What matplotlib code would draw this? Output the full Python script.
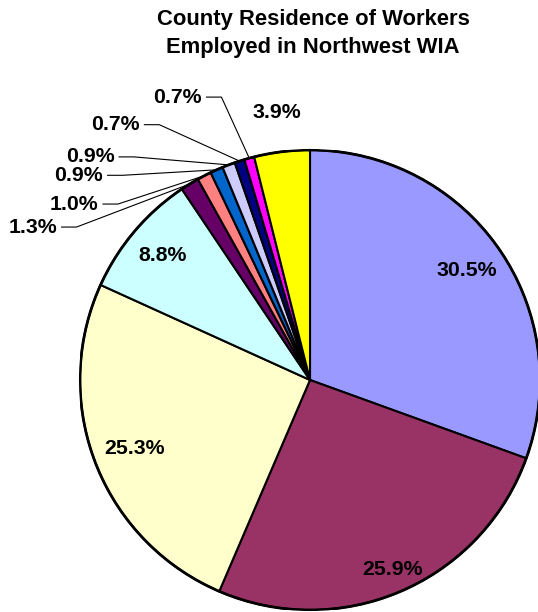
import numpy as np
import matplotlib.pyplot as plt

plt.rcParams['font.family'] = ['Liberation Sans', 'DejaVu Sans']

# shares of workers by county of residence, clockwise from 12 o'clock
shares = [30.5, 25.9, 25.3, 8.8, 1.3, 1.0, 0.9, 0.9, 0.7, 0.7, 3.9]
labels = ['30.5%', '25.9%', '25.3%', '8.8%', '1.3%', '1.0%', '0.9%', '0.9%', '0.7%', '0.7%', '3.9%']
colors = ['#9999FF', '#993366', '#FFFFCC', '#CCFFFF', '#660066', '#FF8080',
          '#0066CC', '#CCCCFF', '#000080', '#FF00FF', '#FFFF00']

# label placement: radial distance for inside labels, fixed spot for leader-line labels
inside_r = {0: 0.83, 1: 0.9, 2: 0.82, 3: 0.84, 10: 1.17}
outside_pos = {4: (-1.10, 0.665), 5: (-0.92, 0.765), 6: (-0.90, 0.89),
               7: (-0.85, 0.97), 8: (-0.74, 1.11), 9: (-0.47, 1.23)}

fig = plt.figure(figsize=(5.38, 6.12), dpi=100)
ax = fig.add_axes([80 / 538, 2 / 612, 460 / 538, 460 / 612])

wedges, _ = ax.pie(shares, colors=colors, startangle=90, counterclock=False,
                   wedgeprops=dict(edgecolor='black', linewidth=1.5))
ax.add_patch(plt.Circle((0, 0), 1, fill=False, edgecolor='black', linewidth=2, zorder=5))
ax.set_xlim(-1, 1)
ax.set_ylim(-1, 1)
ax.set_aspect('equal')
ax.axis('off')

for i, w in enumerate(wedges):
    mid = np.deg2rad((w.theta1 + w.theta2) / 2)
    if i in inside_r:
        r = inside_r[i]
        ax.text(r * np.cos(mid), r * np.sin(mid), labels[i], ha='center', va='center',
                fontsize=15.3, fontweight='bold', clip_on=False)
    else:
        tx, ty = outside_pos[i]
        ax.text(tx, ty, labels[i], ha='right', va='center', fontsize=15.3,
                fontweight='bold', clip_on=False)
        ax.plot([tx + 0.02, tx + 0.085, np.cos(mid)], [ty, ty, np.sin(mid)],
                color='black', linewidth=0.8, clip_on=False)

fig.text(313 / 538, 1 - 20 / 612, 'County Residence of Workers', ha='center', va='center',
         fontsize=15.8, fontweight='bold')
fig.text(313 / 538, 1 - 47 / 612, 'Employed in Northwest WIA', ha='center', va='center',
         fontsize=15.8, fontweight='bold')

plt.savefig('out.png', dpi=100)
